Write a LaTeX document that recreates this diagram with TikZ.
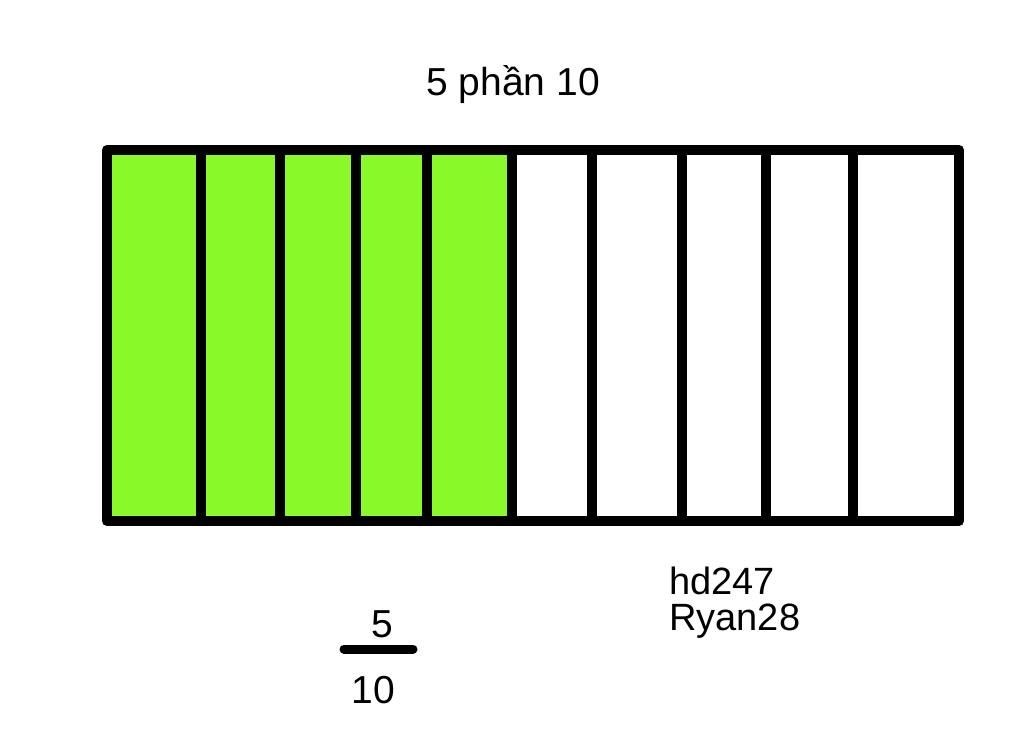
\documentclass[tikz,border=0pt]{standalone}
\usepackage{fontspec}
\setmainfont{Liberation Sans}
\definecolor{cellgreen}{RGB}{137,249,42}
\begin{document}
\begin{tikzpicture}[x=1pt,y=-1pt,
  txt/.style={inner sep=0pt,font=\fontsize{39}{39}\selectfont},
  frame/.style={line width=10pt,line join=round,draw=black},
  divider/.style={line width=9.5pt,draw=black}]
\useasboundingbox[fill=white] (0,0) rectangle (1024,744);
% green part
\fill[cellgreen] (107,150) rectangle (512,521);
% dividers
\foreach \x in {201,280,356,427,512,592,682,766,853}
  \draw[divider] (\x,150) -- (\x,521);
% outer frame
\draw[frame] (107,150) rectangle (959,521);
% title
\node[txt,anchor=base] (title) at (513,95) {5 phần 10};
% fraction
\node[txt,anchor=base] (num) at (382,637) {5};
\coordinate (barL) at (344,649);
\coordinate (barR) at (413,649);
\draw[line width=9pt,line cap=round] (barL) -- (barR);
\node[txt,anchor=base] (den) at (373,703) {10};
% credits
\node[txt,anchor=base west,font=\fontsize{38}{38}\selectfont] (c1) at (669,594) {hd247};
\node[txt,anchor=base west,font=\fontsize{38}{38}\selectfont] (c2) at (669,630) {Ryan28};
\end{tikzpicture}
\end{document}
